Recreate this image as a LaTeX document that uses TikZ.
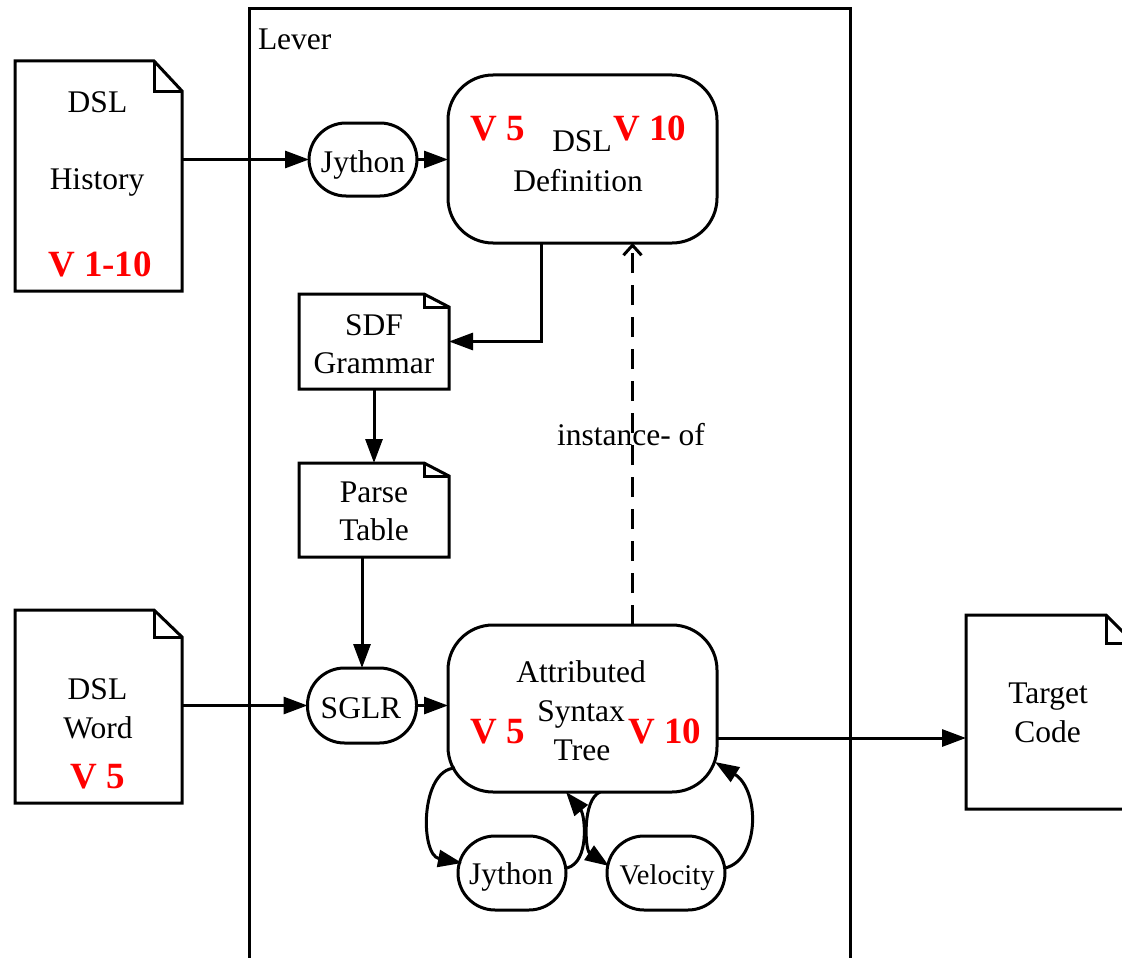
\documentclass[tikz,border=0pt]{standalone}
\usepackage{fontspec}
\setmainfont{Liberation Serif}
\usetikzlibrary{arrows.meta}

% outline of a document shape with a folded top-right corner
\newcommand\docframe[3]{%
  \draw[line] (#1.north west) -- ([xshift=-#2pt]#1.north east)
    -- ([yshift=-#3pt]#1.north east) -- (#1.south east)
    -- (#1.south west) -- cycle;
  \draw[line] ([xshift=-#2pt]#1.north east) |- ([yshift=-#3pt]#1.north east);}

\begin{document}
\begin{tikzpicture}[x=1pt,y=-1pt,
  every node/.style={inner sep=0pt, outer sep=0pt},
  line/.style={line width=3pt, line join=miter},
  conn/.style={line, -{Triangle[length=24pt,width=17pt]}},
  inst/.style={line, dash pattern=on 20pt off 12pt,
               -{Straight Barb[length=10pt,width=18pt]}},
  docbox/.style={draw=none, rectangle},
  procbox/.style={line, draw, rectangle, rounded corners=45pt},
  pill/.style={line, draw, rectangle, rounded corners=37pt, minimum height=74pt},
  lbl/.style={anchor=base, font=\fontsize{31.5}{36}\selectfont},
  small/.style={anchor=base, font=\fontsize{28.5}{33}\selectfont},
  vtag/.style={anchor=base, text=red, font=\fontsize{37}{42}\selectfont\bfseries}]

\useasboundingbox (0,0) rectangle (1122,958);

% Lever container (open at the bottom)
\draw[line] (249,975) -- (249,9) -- (850,9) -- (850,975);
\node[lbl, anchor=base west] (lever) at (258,50) {Lever};

% documents
\node[docbox, minimum width=167pt, minimum height=230pt] (hist) at (98.5,176) {};
\docframe{hist}{28}{30}
\node[lbl] (histA) at (97.5,112) {DSL};
\node[lbl] (histB) at (97,189) {History};
\node[vtag] (histV) at (100,276) {V 1-10};

\node[docbox, minimum width=167pt, minimum height=193pt] (word) at (98.5,706.5) {};
\docframe{word}{28}{27}
\node[lbl] (wordA) at (97.5,699) {DSL};
\node[lbl] (wordB) at (98,738) {Word};
\node[vtag] (wordV) at (98,788) {V 5};

\node[docbox, minimum width=168pt, minimum height=194pt] (tgt) at (1050,712) {};
\docframe{tgt}{28}{28}
\node[lbl] (tgtA) at (1048,703) {Target};
\node[lbl] (tgtB) at (1047.5,742) {Code};

\node[docbox, minimum width=150pt, minimum height=95pt] (sdf) at (374,341.5) {};
\docframe{sdf}{25}{13}
\node[lbl] (sdfA) at (374,335) {SDF};
\node[lbl] (sdfB) at (374,373) {Grammar};

\node[docbox, minimum width=150pt, minimum height=94pt] (pt) at (374,510) {};
\docframe{pt}{25}{13}
\node[lbl] (ptA) at (374,502) {Parse};
\node[lbl] (ptB) at (374,540) {Table};

% processes
\node[pill, minimum width=108pt, minimum height=73pt] (jyt) at (363,159.5) {};
\node[lbl] (jytl) at (363,172) {Jython};

\node[procbox, minimum width=269pt, minimum height=168pt] (def) at (582.5,159) {};
\node[lbl] (defA) at (582,151) {DSL};
\node[lbl] (defB) at (578,191) {Definition};
\node[vtag] (defV1) at (498,140) {V 5};
\node[vtag] (defV2) at (650,140) {V 10};

\node[pill, minimum width=109pt, minimum height=75pt] (sglr) at (362,705.5) {};
\node[lbl] (sglrl) at (361,718) {SGLR};

\node[procbox, minimum width=269pt, minimum height=167pt] (ast) at (582.5,708.5) {};
\node[lbl] (astA) at (581,682) {Attributed};
\node[lbl] (astB) at (581,721) {Syntax};
\node[lbl] (astC) at (582,760) {Tree};
\node[vtag] (astV1) at (498,743) {V 5};
\node[vtag] (astV2) at (665,743) {V 10};

\node[pill, minimum width=108pt] (jyb) at (512,873) {};
\node[lbl] (jybl) at (511,884) {Jython};

\node[pill, minimum width=118pt] (vel) at (666,873) {};
\node[small] (vell) at (667,884) {Velocity};

% connectors
\draw[conn] (jyt.west -| hist.east) -- (jyt.west);
\draw[conn] (jyt.east) -- (jyt.east -| def.west);
\draw[conn] ([xshift=-41.5pt]def.south) |- (sdf.east);
\draw[conn] (sdf.south) -- (pt.north);
\draw[conn] (sglr.north |- pt.south) -- (sglr.north);
\draw[conn] (word.east |- sglr.west) -- (sglr.west);
\draw[conn] (sglr.east) -- (sglr.east -| ast.west);
\draw[conn] ([yshift=-29.5pt]ast.east) -- ([yshift=-29.5pt]ast.east -| tgt.west);

\draw[inst] ([xshift=50pt]ast.north) -- ([xshift=50pt]def.south);
\node[lbl] (instl) at (631,445) {instance- of};

% transformation loops below the syntax tree
\draw[conn] ([shift={(7,-24)}]ast.south west) .. controls +(-35,2) and +(-42,-8) .. ([shift={(4,-10)}]jyb.west);
\draw[conn] ([shift={(1,-5)}]jyb.east) .. controls +(23,-6) and +(19,23) .. ([xshift=-16.5pt]ast.south);
\draw[conn] ([xshift=17.5pt]ast.south) .. controls +(-18,8) and +(-24,-16) .. ([shift={(2,-7)}]vel.west);
\draw[conn] ([shift={(0,-5)}]vel.east) .. controls +(35,-8) and +(45,28) .. ([shift={(-2,-30)}]ast.south east);

\end{tikzpicture}
\end{document}
